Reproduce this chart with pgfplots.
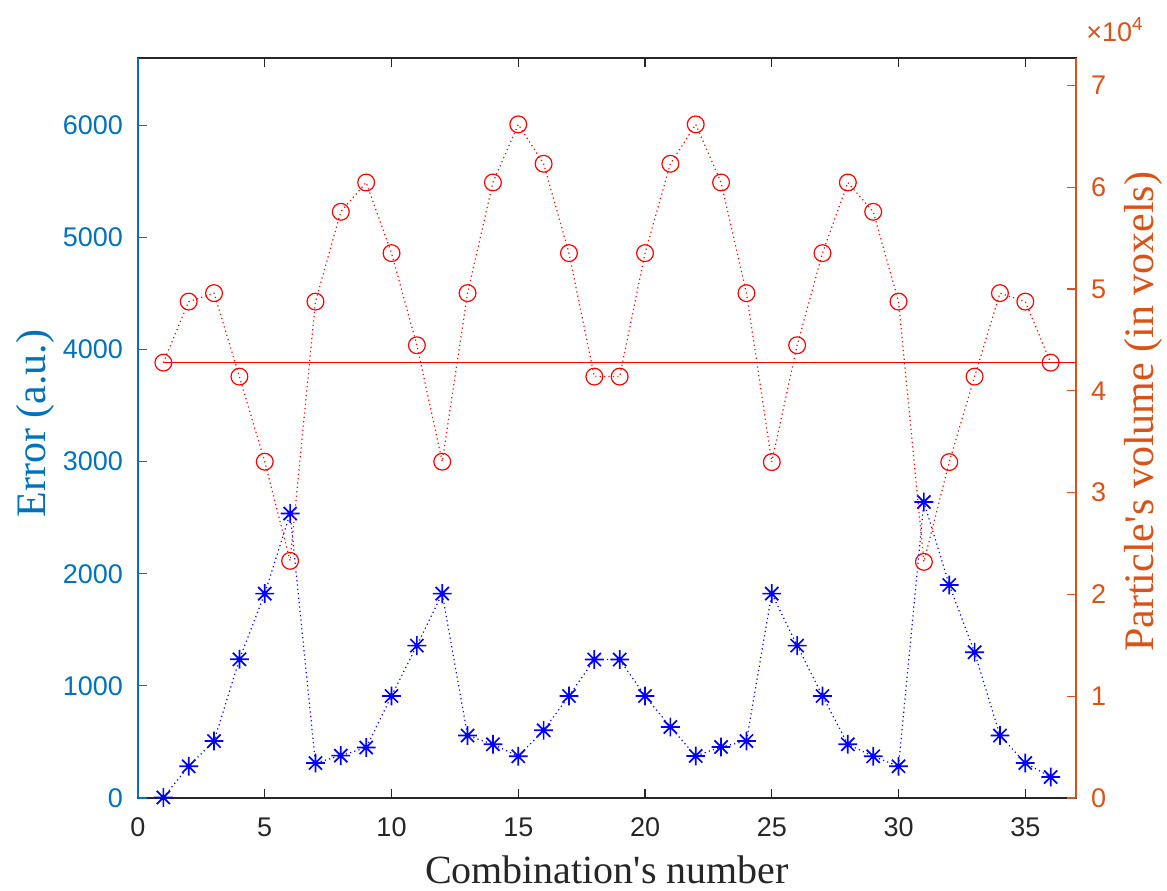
\documentclass[border=0pt]{standalone}
\usepackage{pgfplots}
\pgfplotsset{compat=1.18}
\usepackage{fontspec}
\setmainfont[Ligatures=TeXOff]{Liberation Serif}
\newfontfamily\ticksf{Liberation Sans}
\definecolor{lblue}{rgb}{0,0.447,0.741}
\definecolor{rorange}{rgb}{0.85,0.325,0.098}
\definecolor{dgray}{rgb}{0.15,0.15,0.15}

\pgfdeclareplotmark{mstar}{%
  \pgfpathmoveto{\pgfqpoint{0pt}{\pgfplotmarksize}}%
  \pgfpathlineto{\pgfqpoint{0pt}{-\pgfplotmarksize}}%
  \pgfpathmoveto{\pgfqpoint{\pgfplotmarksize}{0pt}}%
  \pgfpathlineto{\pgfqpoint{-\pgfplotmarksize}{0pt}}%
  \pgfpathmoveto{\pgfqpoint{0.7\pgfplotmarksize}{0.7\pgfplotmarksize}}%
  \pgfpathlineto{\pgfqpoint{-0.7\pgfplotmarksize}{-0.7\pgfplotmarksize}}%
  \pgfpathmoveto{\pgfqpoint{0.7\pgfplotmarksize}{-0.7\pgfplotmarksize}}%
  \pgfpathlineto{\pgfqpoint{-0.7\pgfplotmarksize}{0.7\pgfplotmarksize}}%
  \pgfusepathqstroke}

\pgfplotsset{mybase/.style={
  scale only axis, width=469pt, height=370pt,
  xmin=0, xmax=37,
  at={(0,0)}, anchor=south west,
  tick align=inside,
  major tick length=4.5pt,
  /pgf/number format/assume math mode=true,
  /pgf/number format/1000 sep={},
  tick label style={font=\ticksf\fontsize{13.5}{16}\selectfont},
}}

\begin{document}
\begin{tikzpicture}
\useasboundingbox (-69pt,-46pt) rectangle (514.5pt,399pt);

% dark box with x ticks
\begin{axis}[mybase,
  ymin=0, ymax=6600,
  ytick=\empty,
  xtick={0,5,...,35},
  axis line style={dgray, line width=0.6pt},
  tick style={dgray, line width=0.6pt},
  xticklabel style={dgray, yshift=-6.5pt},
  xlabel={Combination's number},
  xlabel style={at={(axis description cs:0.5,0)}, anchor=base, yshift=-42.5pt,
    dgray, font=\fontsize{20}{24}\selectfont},
]
\end{axis}

% left axis: Error
\begin{axis}[mybase,
  ymin=0, ymax=6600,
  axis x line=none,
  axis y line*=left,
  ytick={0,1000,...,6000},
  scaled y ticks=false,
  y axis line style={lblue, line width=0.6pt},
  tick style={lblue, line width=0.6pt},
  yticklabel style={lblue, xshift=-4pt},
  ylabel={Error (a.u.)},
  ylabel style={at={(axis description cs:-0.1098,0.506)}, anchor=center,
    lblue, font=\fontsize{21}{24}\selectfont},
]
\addplot[blue, line width=0.6pt, dash pattern=on 0.6pt off 1.6pt,
  mark=mstar, mark size=4.7pt,
  mark options={solid, line width=0.85pt}]
  coordinates {
  (1,5) (2,283) (3,508) (4,1237) (5,1823) (6,2537) (7,312) (8,378) (9,450)
  (10,910) (11,1359) (12,1823) (13,557) (14,479) (15,372) (16,604) (17,910)
  (18,1235) (19,1235) (20,910) (21,633) (22,375) (23,455) (24,508) (25,1823)
  (26,1359) (27,910) (28,479) (29,372) (30,283) (31,2640) (32,1900) (33,1300)
  (34,557) (35,312) (36,187)
  };
\end{axis}

% right axis: Particle's volume
\begin{axis}[mybase,
  ymin=0, ymax=72700,
  axis x line=none,
  axis y line*=right,
  ytick={0,10000,...,70000},
  scaled y ticks=base 10:-4,
  ytick scale label code/.code={×10\textsuperscript{#1}},
  every y tick scale label/.style={at={(rel axis cs:1,1)}, anchor=south west,
    inner sep=0pt, xshift=1pt, yshift=8pt, rorange,
    font=\ticksf\fontsize{13.5}{16}\selectfont},
  y axis line style={rorange, line width=0.6pt},
  tick style={rorange, line width=0.6pt},
  yticklabel style={rorange, xshift=4pt},
  ylabel={Particle's volume (in voxels)},
  ylabel style={at={(axis description cs:1.0714,0.522)}, anchor=center,
    rorange, font=\fontsize{21}{24}\selectfont},
]
\addplot[red, line width=0.6pt, dash pattern=on 0.6pt off 1.6pt,
  mark=o, mark size=4.2pt,
  mark options={solid, line width=0.6pt}]
  coordinates {
  (1,42770) (2,48770) (3,49600) (4,41400) (5,33040) (6,23300) (7,48770)
  (8,57590) (9,60470) (10,53530) (11,44480) (12,33040) (13,49600) (14,60470)
  (15,66180) (16,62310) (17,53530) (18,41400) (19,41400) (20,53530) (21,62310)
  (22,66180) (23,60470) (24,49600) (25,33000) (26,44480) (27,53530) (28,60470)
  (29,57590) (30,48770) (31,23200) (32,33000) (33,41400) (34,49600) (35,48770)
  (36,42770)
  };
\addplot[red, line width=0.7pt] coordinates {(1,42770) (37,42770)};
\end{axis}
\end{tikzpicture}
\end{document}
